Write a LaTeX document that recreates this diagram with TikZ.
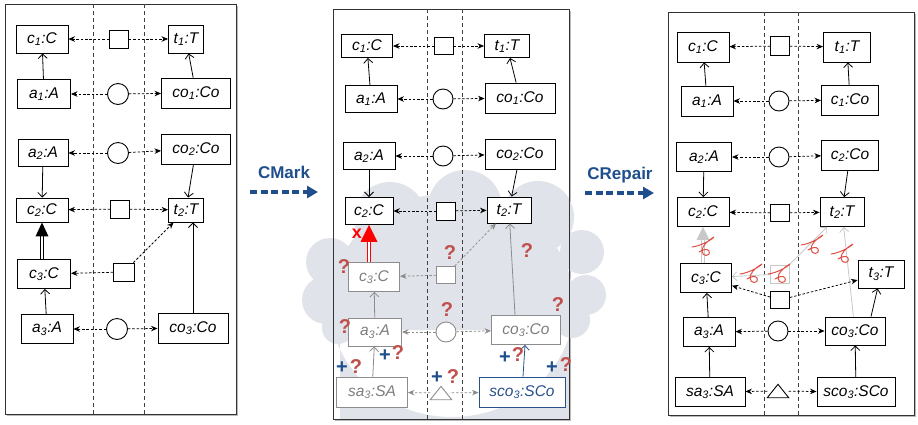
\documentclass[tikz,border=0pt]{standalone}
\usepackage{fontspec}
\setmainfont{Liberation Sans}
\usetikzlibrary{arrows.meta,shadows,calc}
\definecolor{cmblue}{RGB}{31,78,140}
\definecolor{qred}{RGB}{192,80,77}
\definecolor{cloudc}{RGB}{224,227,233}
\definecolor{gtext}{RGB}{125,125,125}
\definecolor{gline}{RGB}{140,140,140}
\definecolor{lgray}{RGB}{200,200,200}
\definecolor{scol}{RGB}{222,80,70}
\definecolor{scoblue}{RGB}{40,80,140}
\newcommand\lblfont{\fontsize{15.5}{17}\selectfont\itshape}
\newcommand\lb[3]{#1\textsubscript{#2}:#3}
\newcommand\inh[5]{%
  \draw[draw=#3, double=white, double distance=1.6pt, line width=0.8pt] (#1.north -| #2.south) -- ($(#2.south)+(0,#5)$);
  \fill[#3] ($(#2.south)+(-#4,#5)$) -- ($(#2.south)+(#4,#5)$) -- (#2.south) -- cycle;}
\newcommand\scribble[1]{%
  \draw[draw=scol, line width=1pt, line cap=round, shift={(#1)}, scale=2] (-6,0.5) .. controls (-2,0) and (3,-2.5) .. (5,-4.5)
    .. controls (1.5,-2.5) and (-1,0) .. (-1,2.5) .. controls (-1,5.5) and (3.5,5.5) .. (2.5,2.5)
    .. controls (1.8,1) and (-1,2) .. (-2.5,3);}
\begin{document}
\begin{tikzpicture}[x=1pt,y=-1pt,
 box/.style={draw, fill=white, line width=0.9pt, inner sep=0pt, font=\lblfont},
 gbox/.style={box, draw=gline, text=gtext},
 sqr/.style={draw, fill=white, line width=0.9pt, inner sep=0pt, minimum width=19pt, minimum height=18pt},
 crc/.style={draw, fill=white, circle, line width=0.9pt, inner sep=0pt, minimum size=21pt},
 dsh/.style={line width=0.75pt, dash pattern=on 2.5pt off 1.8pt, -{Stealth[length=6.5pt,width=5.5pt]}},
 asc/.style={line width=0.8pt, -{Straight Barb[length=4.5pt,width=9pt]}},
 vline/.style={line width=0.9pt, dash pattern=on 4pt off 3pt, draw=black!75},
 frm/.style={line width=1pt, draw=black!80},
 shd/.style={fill=white, drop shadow={shadow xshift=2pt, shadow yshift=-2pt, opacity=0.45, fill=black!60}},
 qm/.style={text=qred, font=\fontsize{20}{20}\selectfont\bfseries, inner sep=0pt},
 pl/.style={text=cmblue, font=\fontsize{20}{20}\selectfont\bfseries, inner sep=0pt},
 big/.style={line width=3.5pt, draw=cmblue, dash pattern=on 7pt off 3.5pt, -{Triangle[length=11pt,width=12pt]}},
 ttl/.style={text=cmblue, font=\fontsize{17}{17}\selectfont\bfseries, inner sep=0pt},
]
\useasboundingbox (0,0) rectangle (918,424);
% ---------- frames ----------
\path[shd] (5,4) rectangle (236,414);
\path[shd] (333,9) rectangle (569,419);
\path[shd] (668,12) rectangle (914,415);
% cloud
\begin{scope}
\clip (290,160) rectangle (620,419);
\fill[cloudc] (390,218) circle (36) (465,207) circle (37) (538,217) circle (36)
  (582,252) circle (22) (586,295) circle (20) (572,320) circle (18)
  (330,262) circle (24) (326,300) circle (24) (338,328) circle (16)
  (452,305) ellipse (122 and 112) (340,330) rectangle (569,419);
\end{scope}
\draw[frm] (5,4) rectangle (236,414);
\draw[frm] (333,9) rectangle (569,419);
\draw[frm] (668,12) rectangle (914,415);
\draw[vline] (93,4) -- (93,414); \draw[vline] (144,4) -- (144,414);
\draw[vline] (427,9) -- (427,419); \draw[vline] (462,9) -- (462,419);
\draw[vline] (764,12) -- (764,415); \draw[vline] (798,12) -- (798,415);
% ---------- left panel ----------
\node[box, minimum width=52pt, minimum height=28pt] (L-c1) at (42,39) {\lb{c}{1}{C}};
\node[sqr] (L-s1) at (119,39) {};
\node[box, minimum width=35pt, minimum height=28pt] (L-t1) at (186,39) {\lb{t}{1}{T}};
\node[box, minimum width=53pt, minimum height=29pt] (L-a1) at (44,94) {\lb{a}{1}{A}};
\node[crc] (L-o1) at (118,94) {};
\node[box, minimum width=69pt, minimum height=30pt] (L-co1) at (196,93) {\lb{co}{1}{Co}};
\node[box, minimum width=50pt, minimum height=27pt] (L-a2) at (43,153) {\lb{a}{2}{A}};
\node[crc] (L-o2) at (118,153) {};
\node[box, minimum width=69pt, minimum height=30pt] (L-co2) at (196,149) {\lb{co}{2}{Co}};
\node[box, minimum width=52pt, minimum height=24pt] (L-c2) at (42,210) {\lb{c}{2}{C}};
\node[sqr] (L-s2) at (120,209) {};
\node[box, minimum width=35pt, minimum height=24pt] (L-t2) at (186,210) {\lb{t}{2}{T}};
\node[box, minimum width=53pt, minimum height=29pt] (L-c3) at (44,274) {\lb{c}{3}{C}};
\node[sqr, minimum width=21pt] (L-s3) at (124,272) {};
\node[box, minimum width=52pt, minimum height=29pt] (L-a3) at (47,329) {\lb{a}{3}{A}};
\node[crc] (L-o3) at (117,329) {};
\node[box, minimum width=70pt, minimum height=30pt] (L-co3) at (193,328) {\lb{co}{3}{Co}};
\draw[dsh] (L-s1) -- (L-c1); \draw[dsh] (L-s1) -- (L-t1);
\draw[asc] (L-a1) -- (L-c1); \draw[asc] (L-co1) -- (L-t1);
\draw[dsh] (L-o1) -- (L-a1); \draw[dsh] (L-o1) -- (L-co1);
\draw[dsh] (L-o2) -- (L-a2); \draw[dsh] (L-o2) -- (L-co2);
\draw[asc] (L-a2) -- (L-c2); \draw[asc] (L-co2) -- (L-t2);
\draw[dsh] (L-s2) -- (L-c2); \draw[dsh] (L-s2) -- (L-t2);
\inh{L-c3}{L-c2}{black}{6.5}{14}
\draw[dsh] (L-s3) -- (L-c3); \draw[dsh] (L-s3) -- (L-t2);
\draw[asc] (L-a3) -- (L-c3);
\draw[asc] (L-co3) -- (L-t2.south -| L-co3);
\draw[dsh] (L-o3) -- (L-a3); \draw[dsh] (L-o3) -- (L-co3);
% ---------- transitions ----------
\node[ttl] (cmark) at (284,172) {CMark};
\coordinate (m1a) at (250,192); \coordinate (m1b) at (318,192);
\draw[big] (m1a) -- (m1b);
\node[ttl] (crep) at (620,175) {CRepair};
\coordinate (m2a) at (585,193); \coordinate (m2b) at (654,193);
\draw[big] (m2a) -- (m2b);
% ---------- middle panel ----------
\node[box, minimum width=51pt, minimum height=23pt] (M-c1) at (367,46) {\lb{c}{1}{C}};
\node[sqr, minimum height=17pt] (M-s1) at (444,46) {};
\node[box, minimum width=45pt, minimum height=23pt] (M-t1) at (507,46) {\lb{t}{1}{T}};
\node[box, minimum width=52pt, minimum height=27pt] (M-a1) at (371,99) {\lb{a}{1}{A}};
\node[crc, minimum size=20pt] (M-o1) at (443,99) {};
\node[box, minimum width=70pt, minimum height=30pt] (M-co1) at (520,98) {\lb{co}{1}{Co}};
\node[box, minimum width=52pt, minimum height=27pt] (M-a2) at (369,156) {\lb{a}{2}{A}};
\node[crc, minimum size=20pt] (M-o2) at (443,156) {};
\node[box, minimum width=70pt, minimum height=30pt] (M-co2) at (520,154) {\lb{co}{2}{Co}};
\node[box, minimum width=48pt, minimum height=27pt] (M-c2) at (369,211) {\lb{c}{2}{C}};
\node[sqr] (M-s2) at (446,211) {};
\node[box, minimum width=44pt, minimum height=26pt] (M-t2) at (509,210) {\lb{t}{2}{T}};
\node[gbox, minimum width=51pt, minimum height=29pt] (M-c3) at (374,277) {\lb{c}{3}{C}};
\node[sqr, draw=gline, minimum height=17pt] (M-s3) at (446,275) {};
\node[gbox, minimum width=53pt, minimum height=28pt] (M-a3) at (375,332) {\lb{a}{3}{A}};
\node[crc, draw=gline, minimum size=20pt] (M-o3) at (446,332) {};
\node[gbox, minimum width=69pt, minimum height=29pt] (M-co3) at (526,330) {\lb{co}{3}{Co}};
\node[gbox, minimum width=71pt, minimum height=30pt] (M-sa3) at (372,392) {\lb{sa}{3}{SA}};
\node[inner sep=0pt, minimum width=21pt, minimum height=13pt] (M-tr) at (441,393) {};
\fill[white, draw=gline, line width=0.9pt] (M-tr.south west) -- (M-tr.south east) -- (M-tr.north) -- cycle;
\node[box, draw=scoblue, text=scoblue, minimum width=86pt, minimum height=30pt] (M-sco3) at (522,392) {\lb{sco}{3}{SCo}};
\draw[dsh] (M-s1) -- (M-c1); \draw[dsh] (M-s1) -- (M-t1);
\draw[asc] (M-a1) -- (M-c1); \draw[asc] (M-co1) -- (M-t1);
\draw[dsh] (M-o1) -- (M-a1); \draw[dsh] (M-o1) -- (M-co1);
\draw[dsh] (M-o2) -- (M-a2); \draw[dsh] (M-o2) -- (M-co2);
\draw[asc] (M-a2) -- (M-c2); \draw[asc] (M-co2) -- (M-t2);
\draw[dsh] (M-s2) -- (M-c2); \draw[dsh] (M-s2) -- (M-t2);
\inh{M-c3}{M-c2}{red}{8.5}{17}
\draw[dsh, draw=gline] (M-s3) -- (M-c3); \draw[dsh, draw=gline] (M-s3) -- (M-t2);
\draw[asc, draw=gline] (M-a3) -- (M-c3);
\draw[asc, draw=gline] ($(M-co3.north)+(-11,0)$) -- (M-t2);
\draw[dsh, draw=gline] (M-o3) -- (M-a3); \draw[dsh, draw=gline] (M-o3) -- (M-co3);
\draw[asc, draw=gline] (M-sa3) -- (M-a3);
\draw[asc, draw=scoblue] (M-sco3) -- (M-co3);
\draw[dsh, draw=gline] (M-tr) -- (M-sa3); \draw[dsh, draw=gline] (M-tr) -- (M-sco3);
\node[text=red, font=\fontsize{18}{18}\selectfont\bfseries, inner sep=0pt] (M-x) at (357,234) {x};
\node[qm] (q1) at (344,267) {?};
\node[qm] (q2) at (450,253) {?};
\node[qm] (q3) at (527,251) {?};
\node[qm] (q4) at (447,310) {?};
\node[qm] (q5) at (558,305) {?};
\node[qm] (q6) at (345,327) {?};
\node[pl] (p1) at (385,356) {+}; \node[qm] (q7) at (398,353) {?};
\node[pl] (p2) at (342,368) {+}; \node[qm] (q8) at (356,367) {?};
\node[pl] (p3) at (437,378) {+}; \node[qm] (q9) at (453,377) {?};
\node[pl] (p4) at (505,358) {+}; \node[qm] (q10) at (518,355) {?};
\node[pl] (p5) at (552,368) {+}; \node[qm] (q11) at (566,365) {?};
% ---------- right panel ----------
\node[box, minimum width=52pt, minimum height=30pt] (R-c1) at (703,47) {\lb{c}{1}{C}};
\node[sqr, minimum height=19pt] (R-s1) at (780,46) {};
\node[box, minimum width=47pt, minimum height=30pt] (R-t1) at (847,47) {\lb{t}{1}{T}};
\node[box, minimum width=52pt, minimum height=30pt] (R-a1) at (707,101) {\lb{a}{1}{A}};
\node[crc, minimum size=20pt] (R-o1) at (779,101) {};
\node[box, minimum width=57pt, minimum height=30pt] (R-co1) at (850,100) {\lb{c}{1}{Co}};
\node[box, minimum width=55pt, minimum height=29pt] (R-a2) at (704,157) {\lb{a}{2}{A}};
\node[crc, minimum size=20pt] (R-o2) at (779,157) {};
\node[box, minimum width=57pt, minimum height=30pt] (R-co2) at (850,155) {\lb{c}{2}{Co}};
\node[box, minimum width=52pt, minimum height=29pt] (R-c2) at (703,212) {\lb{c}{2}{C}};
\node[sqr, minimum height=17pt] (R-s2) at (780,213) {};
\node[box, minimum width=44pt, minimum height=29pt] (R-t2) at (842,212) {\lb{t}{2}{T}};
\node[box, minimum width=51pt, minimum height=29pt] (R-c3) at (706,278) {\lb{c}{3}{C}};
\node[sqr, draw=lgray] (R-sg) at (780,274) {};
\node[box, minimum width=46pt, minimum height=28pt] (R-t3) at (881,274) {\lb{t}{3}{T}};
\node[sqr, minimum height=17pt] (R-sn) at (780,300) {};
\node[box, minimum width=52pt, minimum height=29pt] (R-a3) at (709,332) {\lb{a}{3}{A}};
\node[crc, minimum size=20pt] (R-o3) at (778,331) {};
\node[box, minimum width=60pt, minimum height=28pt] (R-co3) at (855,331) {\lb{co}{3}{Co}};
\node[box, minimum width=70pt, minimum height=29pt] (R-sa3) at (710,392) {\lb{sa}{3}{SA}};
\node[inner sep=0pt, minimum width=21pt, minimum height=13pt] (R-tr) at (778,391) {};
\fill[white, draw=black, line width=0.9pt] (R-tr.south west) -- (R-tr.south east) -- (R-tr.north) -- cycle;
\node[box, minimum width=78pt, minimum height=29pt] (R-sco3) at (856,392) {\lb{sco}{3}{SCo}};
\draw[dsh] (R-s1) -- (R-c1); \draw[dsh] (R-s1) -- (R-t1);
\draw[asc] (R-a1) -- (R-c1); \draw[asc] (R-co1) -- (R-t1);
\draw[dsh] (R-o1) -- (R-a1); \draw[dsh] (R-o1) -- (R-co1);
\draw[dsh] (R-o2) -- (R-a2); \draw[dsh] (R-o2) -- (R-co2);
\draw[asc] (R-a2) -- (R-c2); \draw[asc] (R-co2) -- (R-t2);
\draw[dsh] (R-s2) -- (R-c2); \draw[dsh] (R-s2) -- (R-t2);
\inh{R-c3}{R-c2}{lgray}{6.5}{13}
\draw[asc, draw=lgray] (R-sg) -- (R-c3);
\draw[asc, draw=lgray] (R-sg) -- (R-t2);
\draw[asc, draw=lgray] (R-co3) -- (R-t2);
\draw[dsh] (R-sn) -- (R-c3); \draw[dsh] (R-sn) -- (R-t3);
\draw[asc] (R-a3) -- (R-c3);
\draw[asc] ($(R-co3.north)+(16,0)$) -- (R-t3);
\draw[dsh] (R-o3) -- (R-a3); \draw[dsh] (R-o3) -- (R-co3);
\draw[asc] (R-sa3) -- (R-a3); \draw[asc] (R-sco3) -- (R-co3);
\draw[dsh] (R-tr) -- (R-sa3); \draw[dsh] (R-tr) -- (R-sco3);
\scribble{704,246}
\scribble{752,273}
\scribble{780,273}
\scribble{813,244}
\scribble{843,253}
\end{tikzpicture}
\end{document}
